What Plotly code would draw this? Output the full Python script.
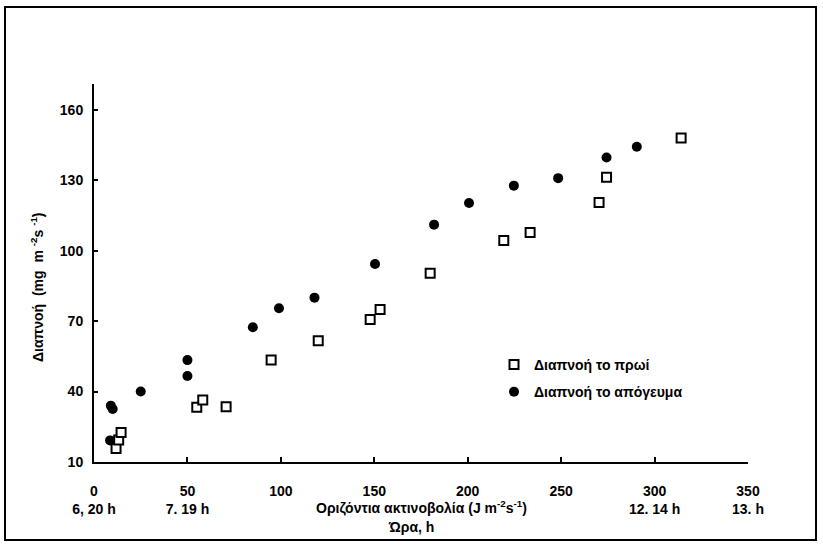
import plotly.graph_objects as go

# Morning transpiration (open squares)
morning_x = [11.8, 13.2, 14.5, 55, 58.2, 70.7, 94.8, 120, 147.8, 153.1, 179.9, 219.3, 233.4, 270.3, 274.3, 314.2]
morning_y = [15.8, 19.4, 22.6, 33.3, 36.4, 33.5, 53.4, 61.6, 70.7, 75.0, 90.4, 104.3, 107.7, 120.5, 131.3, 148.0]

# Afternoon transpiration (filled circles)
afternoon_x = [9.0, 10.0, 8.6, 25, 50, 50, 85, 99, 118, 150.4, 182, 200.7, 224.7, 248.4, 274.3, 290.5]
afternoon_y = [34.0, 32.6, 19.2, 40, 53.4, 46.6, 67.4, 75.5, 80, 94.3, 111.1, 120.3, 127.7, 130.9, 139.7, 144.3]

x_tickvals = [0, 50, 100, 150, 200, 250, 300, 350]
x_ticktext = ["0<br>6, 20 h", "50<br>7. 19 h", "100", "150", "200", "250", "300<br>12. 14 h", "350<br>13. h"]
y_tickvals = [10, 40, 70, 100, 130, 160]

FONT = "Liberation Sans"
FS = 14

fig = go.Figure()
fig.add_trace(go.Scatter(
    x=morning_x, y=morning_y, mode="markers", name="Διαπνοή το πρωί",
    legendgroup="a",
    marker=dict(symbol="square", size=9, color="white", line=dict(color="black", width=2)),
))
fig.add_trace(go.Scatter(
    x=afternoon_x, y=afternoon_y, mode="markers", name="Διαπνοή το απόγευμα",
    legendgroup="b",
    marker=dict(symbol="circle", size=10, color="black", line=dict(color="black", width=0)),
))

W, H = 823, 545
L, R, T, B = 94, 748, 84, 462

fig.update_layout(
    width=W, height=H,
    margin=dict(l=L, r=W - R, t=T, b=H - B),
    paper_bgcolor="white", plot_bgcolor="white",
    font=dict(family=FONT, size=FS, color="black", weight="bold"),
    showlegend=True,
    legend=dict(
        x=(494 - L) / (R - L), y=(462 - 349) / (B - T), xanchor="left", yanchor="top",
        bgcolor="rgba(0,0,0,0)", font=dict(family=FONT, size=FS, color="black", weight="bold"),
        tracegroupgap=6, traceorder="grouped", itemwidth=30,
    ),
    xaxis=dict(
        range=[0, 350], tickvals=x_tickvals, ticktext=x_ticktext,
        showgrid=False, zeroline=False, showline=True, linecolor="black", linewidth=2,
        ticks="inside", ticklen=5, tickwidth=2, tickcolor="black",
        ticklabelstandoff=15,
        tickfont=dict(family=FONT, size=FS, color="black", weight="bold"),
    ),
    yaxis=dict(
        range=[10, 171], tickvals=y_tickvals,
        showgrid=False, zeroline=False, showline=True, linecolor="black", linewidth=2,
        ticks="inside", ticklen=4, tickwidth=2, tickcolor="black",
        ticklabelstandoff=6,
        tickfont=dict(family=FONT, size=FS, color="black", weight="bold"),
    ),
)

def px_x(p):
    return (p - L) / (R - L)

def px_y(p):
    return (B - p) / (B - T)

fig.add_annotation(
    x=px_x(422), y=px_y(507), xref="paper", yref="paper",
    text="Οριζόντια ακτινοβολία (J m<sup>-2</sup>s<sup>-1</sup>)",
    showarrow=False, xanchor="center", yanchor="middle",
    font=dict(family=FONT, size=FS, color="black", weight="bold"),
)
fig.add_annotation(
    x=px_x(411), y=px_y(527), xref="paper", yref="paper",
    text="Ώρα, h", showarrow=False, xanchor="center", yanchor="middle",
    font=dict(family=FONT, size=FS, color="black", weight="bold"),
)
fig.add_annotation(
    x=px_x(37), y=px_y(287), xref="paper", yref="paper",
    text="Διαπνοή  (mg  m <sup>-2</sup>s <sup>-1</sup>)", textangle=-90,
    showarrow=False, xanchor="center", yanchor="middle",
    font=dict(family=FONT, size=FS, color="black", weight="bold"),
)

# outer frame
fig.add_shape(
    type="rect", xref="paper", yref="paper",
    x0=px_x(5), x1=px_x(816), y0=px_y(540), y1=px_y(7),
    line=dict(color="black", width=2), fillcolor="rgba(0,0,0,0)", layer="below",
)

fig.write_html("out.html")
